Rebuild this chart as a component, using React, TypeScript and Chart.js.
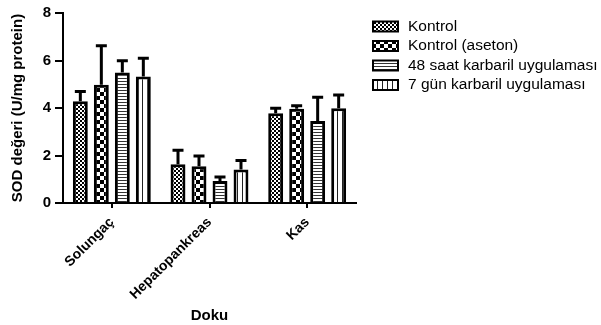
import React, { useEffect, useRef } from "react";
import { Chart, registerables } from "chart.js";

Chart.register(...registerables);

const categories = ["Solungaç", "Hepatopankreas", "Kas"];
const seriesLabels = [
  "Kontrol",
  "Kontrol (aseton)",
  "48 saat karbaril uygulaması",
  "7 gün karbaril uygulaması",
];
const kontrol = [4.28, 1.63, 3.78];
const kontrolAseton = [4.98, 1.55, 3.97];
const saat48 = [5.5, 0.93, 3.45];
const gun7 = [5.33, 1.41, 3.99];
const kontrolErr = [0.41, 0.59, 0.21];
const kontrolAsetonErr = [1.64, 0.43, 0.13];
const saat48Err = [0.49, 0.16, 1.0];
const gun7Err = [0.76, 0.38, 0.56];
const yMin = 0;
const yMax = 8;
const yStep = 2;

const FONT = "'Liberation Sans', Arial, Helvetica, sans-serif";

function makePattern(ctx: CanvasRenderingContext2D, kind: string): CanvasPattern | string {
  const c = document.createElement("canvas");
  const g = c.getContext("2d")!;
  if (kind === "fine") {
    c.width = 4; c.height = 4;
    g.fillStyle = "#fff"; g.fillRect(0, 0, 4, 4);
    g.fillStyle = "#000"; g.fillRect(0, 0, 2, 2); g.fillRect(2, 2, 2, 2);
  } else if (kind === "coarse") {
    c.width = 8; c.height = 8;
    g.fillStyle = "#fff"; g.fillRect(0, 0, 8, 8);
    g.fillStyle = "#000"; g.fillRect(0, 0, 4, 4); g.fillRect(4, 4, 4, 4);
  } else if (kind === "hstripe") {
    c.width = 3; c.height = 3;
    g.fillStyle = "#fff"; g.fillRect(0, 0, 3, 3);
    g.fillStyle = "#333"; g.fillRect(0, 0, 3, 1);
  } else {
    c.width = 5; c.height = 5;
    g.fillStyle = "#fff"; g.fillRect(0, 0, 5, 5);
    g.fillStyle = "#222"; g.fillRect(2, 0, 1, 5);
  }
  return ctx.createPattern(c, "repeat") || "#fff";
}

export default function App() {
  const ref = useRef<HTMLCanvasElement | null>(null);

  useEffect(() => {
    const canvas = ref.current!;
    const ctx = canvas.getContext("2d")!;
    const fills = [
      makePattern(ctx, "fine"),
      makePattern(ctx, "coarse"),
      makePattern(ctx, "hstripe"),
      makePattern(ctx, "vstripe"),
    ];
    const values = [kontrol, kontrolAseton, saat48, gun7];
    const errors = [kontrolErr, kontrolAsetonErr, saat48Err, gun7Err];

    const errorBars = {
      id: "errorBars",
      afterDatasetsDraw(chart: any) {
        const c = chart.ctx;
        const ys = chart.scales.y;
        c.save();
        c.strokeStyle = "#000";
        c.lineWidth = 3;
        chart.data.datasets.forEach((ds: any, i: number) => {
          const meta = chart.getDatasetMeta(i);
          meta.data.forEach((bar: any, j: number) => {
            const v = ds.data[j];
            const e = ds.errors[j];
            const top = ys.getPixelForValue(v + e);
            c.beginPath();
            c.moveTo(bar.x, bar.y);
            c.lineTo(bar.x, top);
            c.moveTo(bar.x - 5.5, top);
            c.lineTo(bar.x + 5.5, top);
            c.stroke();
          });
        });
        c.restore();
      },
    };

    const legendPlugin = {
      id: "customLegend",
      afterDraw(chart: any) {
        const c = chart.ctx;
        const x0 = chart.chartArea.right + 17;
        c.save();
        chart.data.datasets.forEach((ds: any, i: number) => {
          const yc = 26.5 + i * 19.5;
          c.fillStyle = ds.backgroundColor;
          c.fillRect(x0, yc - 5, 25, 10);
          c.strokeStyle = "#000";
          c.lineWidth = 2;
          c.strokeRect(x0, yc - 5, 25, 10);
          c.fillStyle = "#000";
          c.font = `15.5px ${FONT}`;
          c.textBaseline = "middle";
          c.textAlign = "left";
          c.fillText(ds.label, x0 + 35, yc);
        });
        c.restore();
      },
    };

    const chart = new Chart(canvas, {
      type: "bar",
      data: {
        labels: categories,
        datasets: values.map((d, i) => ({
          label: seriesLabels[i],
          data: d,
          errors: errors[i],
          backgroundColor: fills[i],
          borderColor: "#000",
          borderWidth: 3,
          categoryPercentage: 0.86,
          barPercentage: 0.71,
        })) as any,
      },
      options: {
        animation: false,
        responsive: false,
        layout: { padding: { top: 12, right: 245, bottom: 0, left: 0 } },
        plugins: { legend: { display: false }, tooltip: { enabled: false } },
        scales: {
          x: {
            afterFit: (s: any) => { s.height = 122; },
            grid: { drawOnChartArea: false, offset: false, tickLength: 5, lineWidth: 2, color: "#000" },
            border: { color: "#000", width: 2 },
            ticks: {
              color: "#000",
              font: { family: FONT, size: 14, weight: "bold" },
              minRotation: 45,
              maxRotation: 45,
              autoSkip: false,
              padding: 6,
            },
            title: {
              display: true,
              text: "Doku",
              color: "#000",
              font: { family: FONT, size: 15, weight: "bold" },
              padding: { top: 0, bottom: 0 },
            },
          },
          y: {
            min: yMin,
            max: yMax,
            afterFit: (s: any) => { s.width = 63; },
            grid: { drawOnChartArea: false, tickLength: 8, lineWidth: 2, color: "#000" },
            border: { color: "#000", width: 2 },
            ticks: {
              stepSize: yStep,
              color: "#000",
              font: { family: FONT, size: 15, weight: "bold" },
              padding: 4,
            },
            title: {
              display: true,
              text: "SOD değeri (U/mg protein)",
              color: "#000",
              font: { family: FONT, size: 15, weight: "bold" },
              padding: { top: 8.5, bottom: 0 },
            },
          },
        },
      } as any,
      plugins: [errorBars, legendPlugin],
    });
    return () => chart.destroy();
  }, []);

  return (
    <div style={{ position: "absolute", left: 0, top: 0, width: 601, height: 325, background: "#fff" }}>
      <canvas ref={ref} width={601} height={325} style={{ display: "block" }} />
    </div>
  );
}
